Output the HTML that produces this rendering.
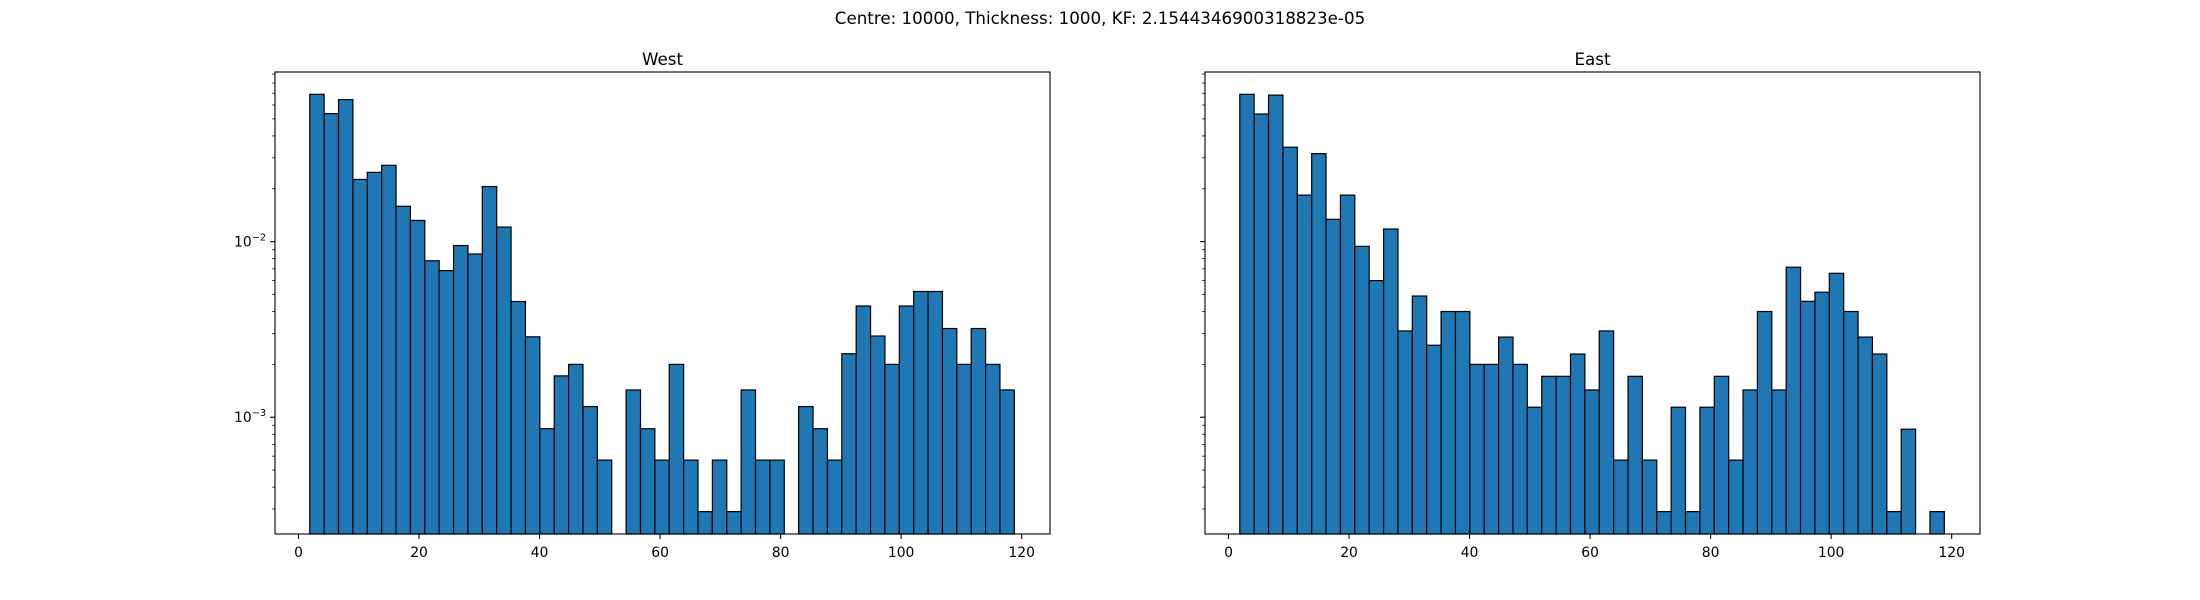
<!DOCTYPE html>
<html><head><meta charset="utf-8"><style>
html,body{margin:0;padding:0;background:#fff;}
svg{display:block;font-family:"DejaVu Sans","Liberation Sans",sans-serif;}
</style></head><body>
<svg id="fig" width="2200" height="600" viewBox="0 0 2200 600" xmlns="http://www.w3.org/2000/svg">
<rect width="2200" height="600" fill="#fff"/>
<text x="1100" y="24" font-size="16.7" text-anchor="middle">Centre: 10000, Thickness: 1000, KF: 2.1544346900318823e-05</text>
</svg>
<script>
const binStart = 1.87;
const binWidth = 2.386;
const xTicks = [0, 20, 40, 60, 80, 100, 120];
const yMajorExps = [-3, -2];
const westValues = [0.069,0.0536,0.0644,0.0226,0.0248,0.0272,0.0159,0.0132,0.00778,0.00684,0.0095,0.0085,0.0206,0.0121,0.00456,0.00287,0.00086,0.00172,0.002,0.00115,0.00057,0,0.00143,0.00086,0.00057,0.002,0.00057,0.00029,0.00057,0.00029,0.00143,0.00057,0.00057,0,0.00115,0.00086,0.00057,0.0023,0.0043,0.0029,0.002,0.0043,0.0052,0.0052,0.0032,0.002,0.0032,0.002,0.00143];
const eastValues = [0.069,0.0533,0.0683,0.0345,0.0184,0.0317,0.0134,0.0184,0.0094,0.006,0.0118,0.0031,0.0049,0.00257,0.004,0.004,0.002,0.002,0.00286,0.002,0.00114,0.00171,0.00171,0.00229,0.00143,0.0031,0.00057,0.00171,0.00057,0.00029,0.00114,0.00029,0.00114,0.00171,0.00057,0.00143,0.004,0.00143,0.00715,0.00457,0.00515,0.0066,0.004,0.00286,0.00229,0.00029,0.000855,0,0.00029];

const NS='http://www.w3.org/2000/svg';
const svg=document.getElementById('fig');
function mk(tag,attrs,parent){const e=document.createElementNS(NS,tag);for(const k in attrs)e.setAttribute(k,attrs[k]);(parent||svg).appendChild(e);return e;}
const xMin=-3.9,xMax=124.7,logMin=-3.665,logMax=-1.034,axTop=72,axBottom=534;
function drawPanel(x0,x1,title,values,name,showYLabels){
  const g=mk('g',{});
  
  
  const sx=v=>x0+(v-xMin)/(xMax-xMin)*(x1-x0);
  const sy=v=>axBottom-(Math.log10(v)-logMin)/(logMax-logMin)*(axBottom-axTop);
  values.forEach((v,i)=>{
    if(v<=0)return;
    const a=sx(binStart+i*binWidth),b=sx(binStart+(i+1)*binWidth),y=sy(v);
    const r=mk('rect',{x:a,y:y,width:b-a,height:axBottom-y,fill:'#1f77b4',stroke:'#000','stroke-width':1.2},g);
    
    
  });
  const fr=mk('rect',{x:x0,y:axTop,width:x1-x0,height:axBottom-axTop,fill:'none',stroke:'#000','stroke-width':1.1},g);
  
  
  xTicks.forEach(t=>{
    const x=sx(t);
    mk('line',{x1:x,x2:x,y1:axBottom,y2:axBottom+4.9,stroke:'#000','stroke-width':1.1},g);
    const tx=mk('text',{x:x,y:557,'font-size':13.9,'text-anchor':'middle'},g);
    tx.textContent=t;
    
    
  });
  for(let e=-4;e<=-1;e++){
    for(let m=1;m<10;m++){
      const lv=e+Math.log10(m);
      if(lv<logMin||lv>logMax)continue;
      const y=axBottom-(lv-logMin)/(logMax-logMin)*(axBottom-axTop);
      mk('line',{x1:x0,x2:x0-(m===1?4.9:2.8),y1:y,y2:y,stroke:'#000','stroke-width':m===1?1.1:0.8},g);
    }
  }
  if(showYLabels){
    yMajorExps.forEach(e=>{
      const y=sy(Math.pow(10,e));
      const t=mk('text',{x:x0-9,y:y+5,'font-size':13.9,'text-anchor':'end'},g);
      
      
      const s1=mk('tspan',{},t);s1.textContent='10';
      const s2=mk('tspan',{'font-size':9.7,dy:-6},t);s2.textContent='\u2212'+Math.abs(e);
    });
  }
  const tt=mk('text',{x:(x0+x1)/2,y:65,'font-size':16.7,'text-anchor':'middle'},g);
  tt.textContent=title;
  
  
}
drawPanel(275,1050,'West',westValues,'west',true);
drawPanel(1205,1980,'East',eastValues,'east',false);
</script>
</body></html>
